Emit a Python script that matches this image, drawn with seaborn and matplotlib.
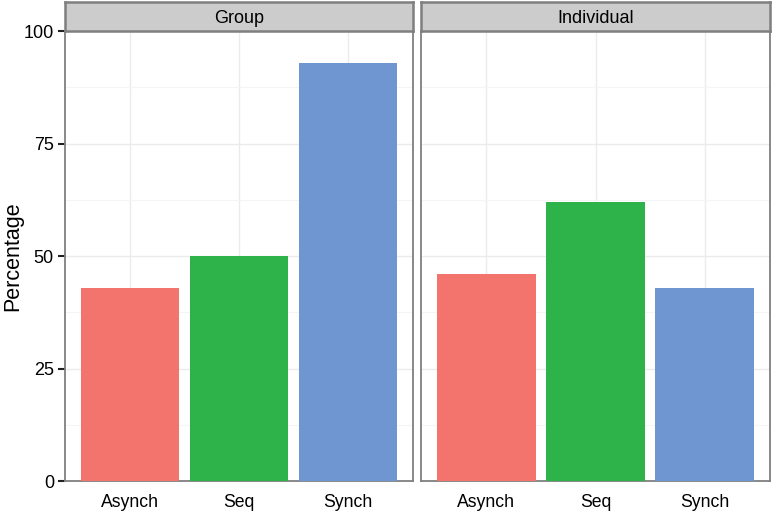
import numpy as np
import pandas as pd
import matplotlib
matplotlib.use("Agg")
import matplotlib.pyplot as plt
import seaborn as sns

groups = ["Group", "Individual"]
conditions = ["Asynch", "Seq", "Synch"]
group_values = [43, 50, 93]
individual_values = [46, 62, 43]
palette = ["#F3736D", "#2EB34B", "#7096D1"]

df = pd.DataFrame({
    "panel": np.repeat(groups, len(conditions)),
    "cond": conditions * len(groups),
    "Percentage": group_values + individual_values,
})

sns.set_style("white")
plt.rcParams["font.family"] = ["Liberation Sans", "DejaVu Sans"]
plt.rcParams["text.color"] = "black"

W, H = 772, 511
fig = plt.figure(figsize=(W / 100, H / 100), dpi=100)

panel_x = [(65, 348), (421, 349)]
plot_bottom, plot_top = 481, 31
strip_top = 2

for i, (name, (px, pw)) in enumerate(zip(groups, panel_x)):
    ax = fig.add_axes([px / W, (H - plot_bottom) / H, pw / W, (plot_bottom - plot_top) / H])
    sub = df[df["panel"] == name]
    sns.barplot(data=sub, x="cond", y="Percentage", hue="cond", palette=palette,
                order=conditions, hue_order=conditions, width=0.9, legend=False,
                saturation=1, ax=ax, zorder=3, linewidth=0)
    ax.set_xlim(-0.6, 2.6)
    ax.set_ylim(0, 100)
    ax.set_yticks([0, 25, 50, 75, 100])
    ax.set_yticks([12.5, 37.5, 62.5, 87.5], minor=True)
    ax.grid(True, which="major", color="#ebebeb", linewidth=1.0, zorder=0)
    ax.grid(True, which="minor", axis="y", color="#f5f5f5", linewidth=0.8, zorder=0)
    ax.set_axisbelow(True)
    ax.set_xlabel("")
    ax.set_ylabel("")
    for s in ax.spines.values():
        s.set_color("#7f7f7f")
        s.set_linewidth(1.3)
    ax.tick_params(axis="x", length=0, labelsize=12.7, pad=9, labelcolor="black")
    if i == 0:
        ax.tick_params(axis="y", which="major", length=5, width=1.5, labelsize=13,
                       color="#222222", labelcolor="black", pad=3, left=True)
        ax.tick_params(axis="y", which="minor", length=0)
    else:
        ax.tick_params(axis="y", which="both", length=0, labelleft=False)

    sax = fig.add_axes([px / W, (H - plot_top) / H, pw / W, (plot_top - strip_top) / H])
    sax.set_facecolor("#cccccc")
    sax.set_xticks([])
    sax.set_yticks([])
    for s in sax.spines.values():
        s.set_visible(True)
        s.set_color("#7f7f7f")
        s.set_linewidth(1.8)
    sax.text(0.5, 0.42, name, ha="center", va="center", fontsize=13,
             color="black", transform=sax.transAxes)

fig.text(2 / W, 1 - 256 / H, "Percentage", rotation=90, ha="left", va="center",
         fontsize=15.5, color="black")

fig.savefig("out.png", dpi=100)
